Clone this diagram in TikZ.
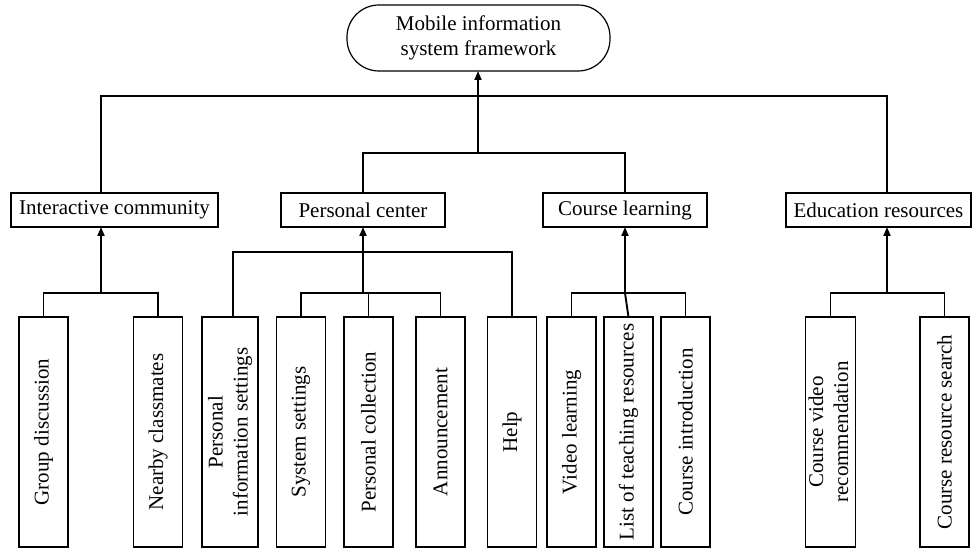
\documentclass[tikz,border=0pt]{standalone}
\usepackage{fontspec}
\setmainfont{Liberation Serif}
\usepackage{graphicx}
\usetikzlibrary{arrows.meta}
\begin{document}
\begin{tikzpicture}[x=1pt,y=-1pt,
  every node/.style={font=\fontsize{21}{25}\selectfont, inner sep=0pt, outer sep=0pt},
  box/.style={draw, line width=1.2pt, minimum height=34pt},
  leaf/.style={draw, line width=1.2pt, minimum width=49pt, minimum height=230pt},
  ln/.style={line width=1.1pt},
  arr/.style={line width=1.9pt, -{Triangle[length=9pt,width=7pt]}}
]
\useasboundingbox (0,0) rectangle (972,548);
% top
\node[draw, line width=1.2pt, rounded corners=32pt, minimum width=263pt, minimum height=66pt, align=center] (tn) at (478.5,38) {Mobile information\\system framework};
% level 2
\node[box, minimum width=207pt] (ic) at (114.5,210) {Interactive community};
\node[box, minimum width=164pt] (pc) at (363,210) {Personal center};
\node[box, minimum width=164pt] (cl) at (625,210) {Course learning};
\node[box, minimum width=185pt] (er) at (878.5,210) {Education resources};
% leaves
\node[leaf] (gd) at (43.5,432) {\rotatebox{90}{Group discussion}};
\node[leaf] (nc) at (158,432) {\rotatebox{90}{Nearby classmates}};
\node[leaf, minimum width=56pt] (pis) at (230,432) {\rotatebox{90}{\begin{tabular}{@{}c@{}}Personal\\information settings\end{tabular}}};
\node[leaf] (ss) at (301,432) {\rotatebox{90}{System settings}};
\node[leaf] (pcol) at (368.5,432) {\rotatebox{90}{Personal collection}};
\node[leaf] (ann) at (440.5,432) {\rotatebox{90}{Announcement}};
\node[leaf] (hp) at (512,432) {\rotatebox{90}{Help}};
\node[leaf] (vl) at (571.5,432) {\rotatebox{90}{Video learning}};
\node[leaf] (lot) at (628.5,432) {\rotatebox{90}{List of teaching resources}};
\node[leaf] (ci) at (685.5,432) {\rotatebox{90}{Course introduction}};
\node[leaf] (cvr) at (830.5,432) {\rotatebox{90}{\begin{tabular}{@{}c@{}}Course video\\recommendation\end{tabular}}};
\node[leaf] (crs) at (944.5,432) {\rotatebox{90}{Course resource search}};
% coordinates
\coordinate (t1) at (478,153);
\coordinate (bl) at (101,96);
\coordinate (br) at (887,96);
\coordinate (bi) at (101,293);
\coordinate (bp) at (363,293);
\coordinate (bpu) at (363,252);
\coordinate (bc) at (625,293);
\coordinate (be) at (887,293);
% top level connectors
\draw[ln] (ic.north -| bl) -- (bl) -- (br) -- (er.north -| br);
\draw[ln] (pc.north) -- (pc.north |- t1) -- (cl.north |- t1) -- (cl.north);
\draw[arr] (t1) -- (tn.south -| t1);
% interactive community
\draw[ln] (gd.north) -- (gd.north |- bi) -- (nc.north |- bi) -- (nc.north);
\draw[arr] (bi) -- (ic.south -| bi);
% personal center
\draw[ln] (pis.north) ++(3,0) coordinate (pist) -- (pist |- bpu) -- (hp.north |- bpu) -- (hp.north);
\draw[ln] (ss.north) -- (ss.north |- bp) -- (ann.north |- bp) -- (ann.north);
\draw[ln] (pcol.north) -- (pcol.north |- bp);
\draw[arr] (bp) -- (pc.south);
% course learning
\draw[ln] (vl.north) -- (vl.north |- bc) -- (ci.north |- bc) -- (ci.north);
\draw[arr] (lot.north) -- (bc) -- (cl.south);
% education resources
\draw[ln] (cvr.north) -- (cvr.north |- be) -- (crs.north |- be) -- (crs.north);
\draw[arr] (be) -- (er.south -| be);
\end{tikzpicture}
\end{document}
